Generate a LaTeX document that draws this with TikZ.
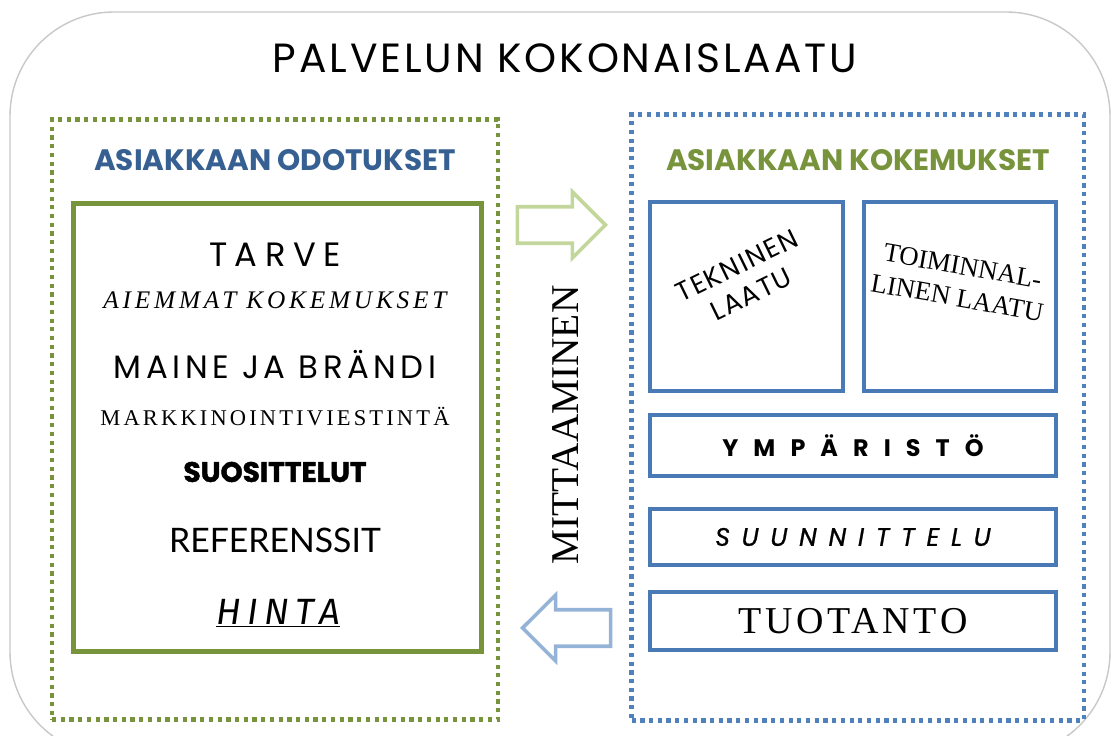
\documentclass[tikz,border=0pt]{standalone}
\usepackage{fontspec}
\usetikzlibrary{shapes.arrows}
\setmainfont{Liberation Serif}
\newfontfamily\gothicfont{Poppins}
\newfontfamily\narrowfont{Lato}
\newfontfamily\handfont{Fira Sans}

\definecolor{odgreen}{HTML}{77933C}
\definecolor{odblue}{HTML}{376092}
\definecolor{kkblue}{HTML}{4F81BD}
\definecolor{boxblue}{HTML}{4A7AB5}
\definecolor{arrgreen}{HTML}{C3D69B}
\definecolor{arrblue}{HTML}{95B3D7}
\definecolor{rimgray}{HTML}{C8C8C8}

\tikzset{
  dotframe/.style={draw=#1, line width=3pt, dash pattern=on 3pt off 3.2pt, inner sep=0pt},
  qbox/.style={draw=boxblue, line width=3.2pt, inner sep=0pt},
  blockarrow/.style={single arrow, draw=#1, line width=2.6pt, inner xsep=0pt, inner ysep=0.41cm,
    minimum height=2.2cm, single arrow head extend=0.37cm, anchor=tip},
}
\newcommand{\fsz}[1]{\fontsize{#1}{1.2\dimexpr#1pt\relax}\selectfont}
\newcommand{\spaced}[1]{\addfontfeature{LetterSpace=#1}}

\begin{document}
\begin{tikzpicture}[x=1cm,y=1cm]
\useasboundingbox (0,0) rectangle (28,18.4);
\node[draw=rimgray, line width=1pt, rounded corners=2.6cm, minimum width=27.5cm, minimum height=18.6cm] (whole) at (14,8.8) {};
\node[font=\gothicfont\spaced{7}\fsz{29}] (title) at (14.125,16.95) {PALVELUN KOKONAISLAATU};

% odotukset
\node[dotframe=odgreen, minimum width=11.15cm, minimum height=15cm] (odotukset) at (6.875,7.91) {};
\node[font=\gothicfont\bfseries\fsz{21}, text=odblue] (odhead) at (6.875,14.4) {ASIAKKAAN ODOTUKSET};
\node[draw=odgreen, line width=3.2pt, minimum width=10.2cm, minimum height=11.2cm] (odbox) at (6.94,7.71) {};
\node[font=\gothicfont\spaced{22}\fsz{24}] (tarve) at (6.875,12.025) {TARVE};
\node[font=\itshape\spaced{15}\fsz{18}] (aiemmat) at (6.875,10.9) {AIEMMAT KOKEMUKSET};
\node[font=\gothicfont\spaced{14}\fsz{23}] (maine) at (6.875,9.275) {MAINE JA BRÄNDI};
\node[font=\spaced{14}\fsz{16}] (markk) at (6.875,7.975) {MARKKINOINTIVIESTINTÄ};
\node[font=\gothicfont\bfseries\addfontfeature{FakeBold=1.5}\fsz{20}] (suos) at (6.875,6.6) {SUOSITTELUT};
\node[font=\narrowfont\fsz{24}] (refer) at (6.875,4.9) {REFERENSSIT};
\node[font=\handfont\itshape\spaced{18}\fsz{26}] (hinta) at (6.95,3.075) {\underline{HINTA}};

% arrows and measuring
\node[blockarrow=arrgreen] (toright) at (15.2,12.775) {};
\node[blockarrow=arrblue, shape border rotate=180] (toleft) at (13.0,2.7) {};
\node[rotate=90, font=\fsz{28}] (mittaus) at (14.125,7.775) {MITTAAMINEN};

% kokemukset
\node[dotframe=kkblue, minimum width=11.3cm, minimum height=15.15cm] (kokemukset) at (21.44,7.96) {};
\node[font=\gothicfont\bfseries\fsz{21}, text=odgreen] (kkhead) at (21.45,14.4) {ASIAKKAAN KOKEMUKSET};
\node[qbox, minimum width=4.83cm, minimum height=4.73cm] (tekn) at (18.66,10.99) {};
\node[qbox, minimum width=4.8cm, minimum height=4.73cm] (toim) at (24.0,10.99) {};
\node[qbox, minimum width=10.15cm, minimum height=1.53cm] (ymp) at (21.325,7.26) {};
\node[qbox, minimum width=10.15cm, minimum height=1.4cm] (suun) at (21.325,4.975) {};
\node[qbox, minimum width=10.15cm, minimum height=1.45cm] (tuot) at (21.325,2.875) {};
\node[rotate=26, align=center, font=\gothicfont\spaced{6}\fsz{19}] (tekntext) at (18.6,11.4) {TEKNINEN\\LAATU};
\node[rotate=-10, align=center, font=\fsz{19}] (toimtext) at (24.0,11.35) {TOIMINNAL-\\LINEN LAATU};
\node[font=\gothicfont\bfseries\spaced{63}\fsz{17}] (ymptext) at (ymp) {YMPÄRISTÖ};
\node[font=\gothicfont\itshape\addfontfeature{FakeBold=0.8}\spaced{46}\fsz{18}] (suuntext) at (suun) {SUUNNITTELU};
\node[font=\spaced{10}\fsz{27}] (tuottext) at (tuot) {TUOTANTO};
\end{tikzpicture}
\end{document}
